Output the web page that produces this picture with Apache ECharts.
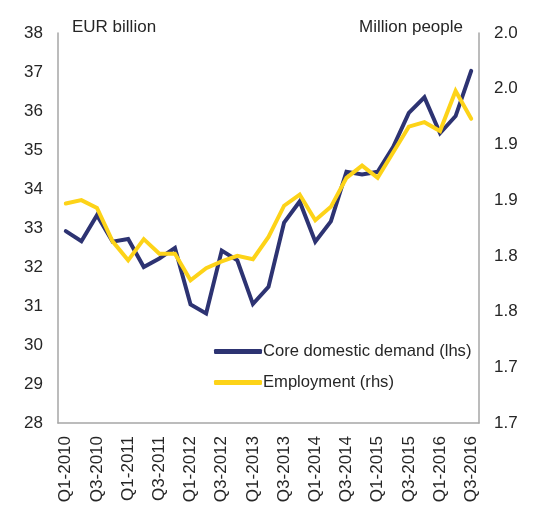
<!DOCTYPE html>
<html>
<head>
<meta charset="utf-8">
<script src="https://cdn.jsdelivr.net/npm/echarts@6/dist/echarts.min.js"></script>
<style>
html,body{margin:0;padding:0;background:#fff;}
#chart{width:545px;height:511px;}
</style>
</head>
<body>
<div id="chart"></div>
<script>
var categories = ['Q1-2010','Q2-2010','Q3-2010','Q4-2010','Q1-2011','Q2-2011','Q3-2011','Q4-2011',
  'Q1-2012','Q2-2012','Q3-2012','Q4-2012','Q1-2013','Q2-2013','Q3-2013','Q4-2013',
  'Q1-2014','Q2-2014','Q3-2014','Q4-2014','Q1-2015','Q2-2015','Q3-2015','Q4-2015',
  'Q1-2016','Q2-2016','Q3-2016'];
var coreDomesticDemand = [32.92, 32.66, 33.33, 32.65, 32.72, 32.00, 32.22, 32.49, 31.04, 30.81, 32.42, 32.17, 31.05, 31.49, 33.14, 33.68, 32.65, 33.17, 34.44, 34.37, 34.44, 35.08, 35.95, 36.35, 35.43, 35.87, 37.03];
var employment = [1.897, 1.900, 1.893, 1.863, 1.846, 1.865, 1.852, 1.852, 1.828, 1.839, 1.845, 1.850, 1.847, 1.867, 1.895, 1.905, 1.882, 1.894, 1.920, 1.931, 1.920, 1.943, 1.966, 1.970, 1.962, 1.998, 1.973];
var rhsTickLabels = ['1.7','1.7','1.8','1.8','1.9','1.9','2.0','2.0'];
var seriesNames = ['Core domestic demand (lhs)', 'Employment (rhs)'];
var unitLabels = ['EUR billion', 'Million people'];

var FONT = 'Liberation Sans, Arial, sans-serif';
var TXT = '#262626';
var AXIS = '#a6a6a6';
var NAVY = '#2d3372';
var YELLOW = '#fdd318';

var chart = echarts.init(document.getElementById('chart'), null, {renderer:'canvas'});
chart.setOption({
  animation: false,
  backgroundColor: '#fff',
  grid: {left: 58, right: 66, top: 33, bottom: 88, containLabel: false},
  graphic: [
    {type:'text', left: 72, top: 19, style:{text: unitLabels[0], font: '17px ' + FONT, fill: TXT}},
    {type:'text', right: 82, top: 19, style:{text: unitLabels[1], font: '17px ' + FONT, fill: TXT, align:'right'}}
  ],
  legend: {
    orient: 'vertical',
    left: 209, top: 338,
    itemWidth: 48, itemHeight: 5, itemGap: 14,
    icon: 'roundRect',
    textStyle: {fontFamily: FONT, fontSize: 16.6, color: TXT, lineHeight: 17, padding: [0, 0, 0, -4]},
    data: seriesNames
  },
  xAxis: {
    type: 'category',
    data: categories,
    boundaryGap: true,
    axisLine: {show: true, lineStyle: {color: AXIS, width: 1.5}},
    axisTick: {show: false},
    splitLine: {show: false},
    axisLabel: {interval: 1, rotate: 90, margin: 13, fontFamily: FONT, fontSize: 17, color: TXT}
  },
  yAxis: [
    {
      type: 'value', min: 28, max: 38, interval: 1, position: 'left',
      axisLine: {show: true, lineStyle: {color: AXIS, width: 1.5}},
      axisTick: {show: false},
      splitLine: {show: false},
      axisLabel: {margin: 15, fontFamily: FONT, fontSize: 17, color: TXT}
    },
    {
      type: 'value', min: 1.7, max: 2.05, interval: 0.05, position: 'right',
      axisLine: {show: true, lineStyle: {color: AXIS, width: 1.5}},
      axisTick: {show: false},
      splitLine: {show: false},
      axisLabel: {margin: 15, fontFamily: FONT, fontSize: 17, color: TXT,
        formatter: function(v){ var i = Math.round((v - 1.7) / 0.05); return rhsTickLabels[i] !== undefined ? rhsTickLabels[i] : ''; }}
    }
  ],
  series: [
    {
      name: seriesNames[0], type: 'line', yAxisIndex: 0, data: coreDomesticDemand,
      showSymbol: false, symbol: 'none', color: NAVY,
      lineStyle: {color: NAVY, width: 4, join: 'miter', cap: 'round'}, z: 2
    },
    {
      name: seriesNames[1], type: 'line', yAxisIndex: 1, data: employment,
      showSymbol: false, symbol: 'none', color: YELLOW,
      lineStyle: {color: YELLOW, width: 4, join: 'miter', cap: 'round'}, z: 3
    }
  ]
});
</script>
</body>
</html>
